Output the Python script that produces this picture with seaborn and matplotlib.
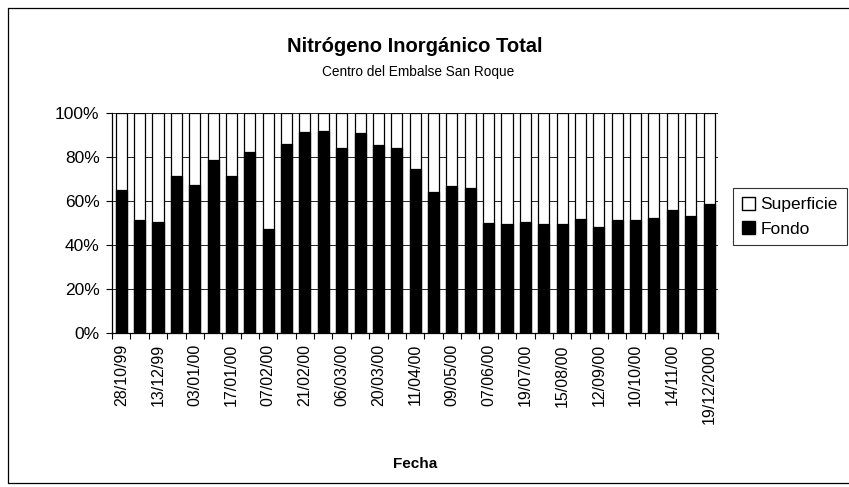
import numpy as np
import pandas as pd
import matplotlib
matplotlib.use("Agg")
import matplotlib.pyplot as plt
from matplotlib.patches import Patch
from matplotlib.lines import Line2D
import seaborn as sns

# Sampling dates shown on the category axis (every second sample is labelled)
fechas = ["28/10/99", "13/12/99", "03/01/00", "17/01/00", "07/02/00", "21/02/00",
          "06/03/00", "20/03/00", "11/04/00", "09/05/00", "07/06/00", "19/07/00",
          "15/08/00", "12/09/00", "10/10/00", "14/11/00", "19/12/2000"]

# Share of total inorganic nitrogen at the bottom (%) for each sample
fondo = [64.8, 51.4, 50.3, 71.2, 67.1, 78.8, 71.2, 82.3, 47.3, 85.8, 91.2,
         91.9, 84.3, 90.8, 85.5, 84.0, 74.5, 64.1, 66.9, 66.0, 50.0, 49.6,
         50.4, 49.6, 49.6, 51.9, 48.0, 51.2, 51.2, 52.4, 55.7, 53.0, 58.5]
# Share at the surface (%) – the remainder of each 100 % column
superficie = [round(100 - f, 1) for f in fondo]

df = pd.DataFrame({
    "muestra": np.arange(len(fondo)),
    "Fondo": fondo,
    "Superficie": superficie,
})
df["Total"] = df["Fondo"] + df["Superficie"]

sns.set_theme(style="white")
plt.rcParams["font.family"] = ["Liberation Sans", "DejaVu Sans"]
plt.rcParams.update({"text.color": "black", "axes.labelcolor": "black",
                     "xtick.color": "black", "ytick.color": "black"})

fig = plt.figure(figsize=(8.49, 4.87), dpi=100)
ax = fig.add_axes([0.132, 0.316, 0.714, 0.452])

# stacked 100 % columns: full white column first, dark bottom part over it
sns.barplot(data=df, x="muestra", y="Total", color="white", edgecolor="black",
            linewidth=0.9, width=0.6, saturation=1, ax=ax, zorder=3)
sns.barplot(data=df, x="muestra", y="Fondo", color="black", edgecolor="black",
            linewidth=0.9, width=0.6, saturation=1, ax=ax, zorder=4)

n = len(fondo)
ax.set_xlim(-0.5, n - 0.5)
ax.set_ylim(0, 100)

ax.set_yticks(np.arange(0, 101, 20))
ax.set_yticklabels([f"{v}%" for v in range(0, 101, 20)], fontsize=12.5)
ax.yaxis.grid(True, color="black", linewidth=0.6)
ax.set_axisbelow(True)

ax.set_xticks(np.arange(0, n, 2))
ax.set_xticklabels(fechas, rotation=90, fontsize=11.5)
ax.set_xticks(np.arange(-0.5, n, 1), minor=True)
ax.tick_params(axis="x", which="major", length=0, pad=8)
ax.tick_params(axis="x", which="minor", length=4, width=0.8, color="black",
               direction="out", bottom=True)
ax.tick_params(axis="y", which="major", length=4, width=0.8, color="black",
               direction="out", left=True, pad=5)

ax.set_xlabel("Fecha", fontsize=11, fontweight="bold", labelpad=24)
ax.set_ylabel("")

for side in ["top", "right"]:
    ax.spines[side].set_visible(False)
for side in ["left", "bottom"]:
    ax.spines[side].set_color("black")
    ax.spines[side].set_linewidth(0.9)

fig.text(0.489, 0.905, "Nitrógeno Inorgánico Total", ha="center", va="center",
         fontsize=14.5, fontweight="bold")
fig.text(0.492, 0.852, "Centro del Embalse San Roque", ha="center",
         va="center", fontsize=9.8)

handles = [Patch(facecolor="white", edgecolor="black", label="Superficie"),
           Patch(facecolor="black", edgecolor="black", label="Fondo")]
leg = fig.legend(handles=handles, loc="upper left",
                 bbox_to_anchor=(0.853, 0.632), frameon=True, fancybox=False,
                 fontsize=12.5, handlelength=0.8, handleheight=0.8,
                 handletextpad=0.3, borderpad=0.5, labelspacing=0.5)
leg.get_frame().set_edgecolor("black")
leg.get_frame().set_linewidth(0.8)

# outer chart frame (left, top and bottom edges; the right edge runs off the page)
frame_kw = dict(transform=fig.transFigure, color="black", linewidth=0.9)
fig.add_artist(Line2D([0.01, 0.01], [0.008, 0.984], **frame_kw))
fig.add_artist(Line2D([0.01, 1.0], [0.984, 0.984], **frame_kw))
fig.add_artist(Line2D([0.01, 1.0], [0.008, 0.008], **frame_kw))

fig.savefig("out.png", dpi=100, facecolor="white")
